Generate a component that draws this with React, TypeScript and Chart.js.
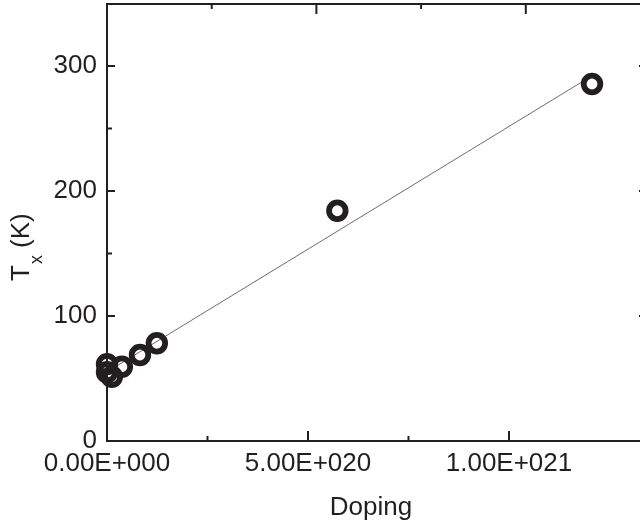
import React, { useEffect, useRef } from "react";
import { Chart, registerables } from "chart.js";

Chart.register(...registerables);

// Measured transition temperature against doping level
const dopingLevels = [0, 0, 1.2e19, 3.7e19, 8.2e19, 1.24e20, 5.73e20, 1.2065e21];
const transitionTemps = [61.5, 55, 51.4, 59.4, 68.8, 78.2, 184.2, 285.6];

// Linear fit through the measurements
const fitDoping = [0, 1.2065e21];
const fitTemps = [55.3, 292.2];

// Axis ticks
const yMajorTicks = [0, 100, 200, 300];
const yMinorTicks = [50, 150, 250];
const xMajorTicks = [0, 5e20, 1e21];
const xMinorTicks = [2.5e20, 7.5e20];
const xTopMajorTicks = [5e20, 1e21];
const xTopMinorTicks = [2.5e20, 7.5e20];

const X_MAX = 1.3458e21;
const X_TOP_MAX = 1.2918e21;
const Y_MAX = 349.6;

const INK = "#231f20";
const FAMILY = "'Liberation Sans', Arial, Helvetica, sans-serif";

function sci(v: number): string {
  const [m, e] = Number(v).toExponential(2).split("e");
  const n = parseInt(e, 10);
  return `${m}E${n < 0 ? "-" : "+"}${String(Math.abs(n)).padStart(3, "0")}`;
}

const framePlugin = {
  id: "frame",
  afterDraw(chart: any) {
    const { ctx, chartArea: a, scales } = chart;
    const xs = scales.x;
    const xt = scales.xTop;
    const ys = scales.y;
    ctx.save();
    ctx.strokeStyle = INK;
    ctx.lineWidth = 2;
    ctx.strokeRect(a.left, a.top, a.right - a.left, a.bottom - a.top);

    const vTick = (px: number, y0: number, len: number) => {
      ctx.beginPath();
      ctx.moveTo(px, y0);
      ctx.lineTo(px, y0 + len);
      ctx.stroke();
    };
    const hTick = (py: number, x0: number, len: number) => {
      ctx.beginPath();
      ctx.moveTo(x0, py);
      ctx.lineTo(x0 + len, py);
      ctx.stroke();
    };

    xMajorTicks.forEach((v) => vTick(xs.getPixelForValue(v), a.bottom, -10));
    xMinorTicks.forEach((v) => vTick(xs.getPixelForValue(v), a.bottom, -5));
    xTopMajorTicks.forEach((v) => vTick(xt.getPixelForValue(v), a.top, 10));
    xTopMinorTicks.forEach((v) => vTick(xt.getPixelForValue(v), a.top, 5));
    yMajorTicks.forEach((v) => {
      hTick(ys.getPixelForValue(v), a.left, 8);
      hTick(ys.getPixelForValue(v), a.right, -9);
    });
    yMinorTicks.forEach((v) => {
      hTick(ys.getPixelForValue(v), a.left, 5);
      hTick(ys.getPixelForValue(v), a.right, -5);
    });

    // Axis titles
    ctx.fillStyle = INK;
    ctx.textBaseline = "alphabetic";
    ctx.textAlign = "center";
    ctx.font = `26px ${FAMILY}`;
    ctx.fillText("Doping", 371, 515);

    ctx.translate(28.5, 281);
    ctx.rotate(-Math.PI / 2);
    ctx.textAlign = "left";
    ctx.font = `26px ${FAMILY}`;
    ctx.fillText("T", 0, 0);
    let cx = ctx.measureText("T").width + 1;
    ctx.font = `18px ${FAMILY}`;
    ctx.fillText("x", cx, 13);
    cx += ctx.measureText("x").width;
    ctx.font = `26px ${FAMILY}`;
    ctx.fillText(" (K)", cx, 0);
    ctx.restore();
  },
};

export default function App() {
  const canvasRef = useRef<HTMLCanvasElement | null>(null);

  useEffect(() => {
    const canvas = canvasRef.current;
    if (!canvas) return;
    const tickFont = { family: FAMILY, size: 26 };
    const chart = new Chart(canvas, {
      type: "scatter",
      data: {
        datasets: [
          {
            data: dopingLevels.map((x, i) => ({ x, y: transitionTemps[i] })),
            pointStyle: "circle",
            pointRadius: 8.3,
            borderWidth: 5.8,
            borderColor: INK,
            backgroundColor: "rgba(0,0,0,0)",
            clip: false,
          },
          {
            data: fitDoping.map((x, i) => ({ x, y: fitTemps[i] })),
            showLine: true,
            pointRadius: 0,
            borderColor: "#6d6d6d",
            borderWidth: 1,
            clip: false,
          },
        ],
      },
      options: {
        animation: false,
        responsive: false,
        devicePixelRatio: 1,
        events: [],
        layout: { autoPadding: false, padding: { top: 4, right: 4, left: 0, bottom: 0 } },
        plugins: { legend: { display: false }, tooltip: { enabled: false } },
        scales: {
          x: {
            type: "linear",
            position: "bottom",
            min: 0,
            max: X_MAX,
            afterBuildTicks: (s: any) => {
              s.ticks = xMajorTicks.map((value) => ({ value }));
            },
            afterFit: (s: any) => {
              s.height = 87;
              s.paddingLeft = 0;
              s.paddingRight = 0;
            },
            grid: { display: false, drawTicks: false },
            border: { display: false },
            ticks: {
              padding: 7,
              maxRotation: 0,
              autoSkip: false,
              color: INK,
              font: tickFont,
              callback: (v: any) => sci(Number(v)),
            },
          },
          xTop: {
            type: "linear",
            position: "top",
            display: false,
            min: 0,
            max: X_TOP_MAX,
          },
          y: {
            type: "linear",
            position: "left",
            min: 0,
            max: Y_MAX,
            afterBuildTicks: (s: any) => {
              s.ticks = yMajorTicks.map((value) => ({ value }));
            },
            afterFit: (s: any) => {
              s.width = 107;
              s.paddingTop = 0;
              s.paddingBottom = 0;
            },
            grid: { display: false, drawTicks: false },
            border: { display: false },
            ticks: {
              padding: 10,
              color: INK,
              font: tickFont,
              callback: (v: any) => String(v),
            },
          },
        },
      },
      plugins: [framePlugin],
    });
    return () => chart.destroy();
  }, []);

  return (
    <div
      style={{
        position: "fixed",
        left: 0,
        top: 0,
        width: 640,
        height: 528,
        overflow: "hidden",
        background: "#fff",
      }}
    >
      <canvas ref={canvasRef} width={652} height={528} style={{ display: "block" }} />
    </div>
  );
}
